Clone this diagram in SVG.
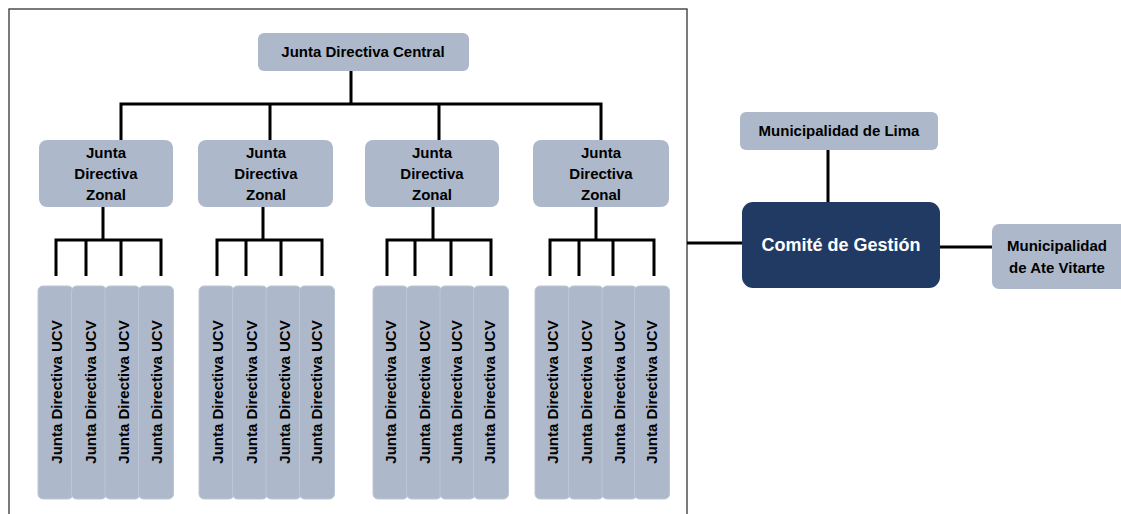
<svg xmlns="http://www.w3.org/2000/svg" width="1121" height="514" viewBox="0 0 1121 514">
<style>
.box{fill:#ADB9CA;}
.ucv{fill:#ADB9CA;stroke:#BCC6D4;stroke-width:1;}
.t{font-family:"Liberation Sans",Arial,sans-serif;font-weight:bold;font-size:15px;fill:#000;text-anchor:middle;}
.w{fill:#fff;font-size:18px;}
.c{stroke:#000;stroke-width:3;fill:none;}
</style>
<rect x="9" y="9" width="678" height="530" fill="#fff" stroke="#333" stroke-width="1.3"/>
<g id="connectors">
<path class="c" d="M351 71V104M121 141V104H601V141M270 104V141M439 104V141"/>
<path class="c" d="M103 207V240M56 276V240H161V276M86 240V276M121 240V276"/>
<path class="c" d="M263 207V240M217 276V240H322V276M246 240V276M281 240V276"/>
<path class="c" d="M433 207V240M387 276V240H491V276M415 240V276M451 240V276"/>
<path class="c" d="M596 207V240M550 276V240H654V276M579 240V276M613 240V276"/>
<path class="c" d="M828 150V202M687 243H742M940 247H992"/>
</g>
<g id="central"><rect class="box" x="258" y="33" width="211" height="38" rx="6"/><text class="t" x="363" y="57">Junta Directiva Central</text></g>
<g id="zonal1"><rect class="box" x="39" y="140" width="134" height="67" rx="8"/><text class="t" x="106" y="158">Junta</text><text class="t" x="106" y="179">Directiva</text><text class="t" x="106" y="200">Zonal</text></g>
<g id="zonal2"><rect class="box" x="198" y="140" width="135" height="67" rx="8"/><text class="t" x="266" y="158">Junta</text><text class="t" x="266" y="179">Directiva</text><text class="t" x="266" y="200">Zonal</text></g>
<g id="zonal3"><rect class="box" x="365" y="140" width="134" height="67" rx="8"/><text class="t" x="432" y="158">Junta</text><text class="t" x="432" y="179">Directiva</text><text class="t" x="432" y="200">Zonal</text></g>
<g id="zonal4"><rect class="box" x="533" y="140" width="136" height="67" rx="8"/><text class="t" x="601" y="158">Junta</text><text class="t" x="601" y="179">Directiva</text><text class="t" x="601" y="200">Zonal</text></g>
<g id="ucv1">
<rect class="ucv" x="38" y="286" width="35" height="213" rx="5"/><rect class="ucv" x="71.5" y="286" width="35" height="213" rx="5"/><rect class="ucv" x="105" y="286" width="35" height="213" rx="5"/><rect class="ucv" x="138.5" y="286" width="35" height="213" rx="5"/>
<text class="t" transform="translate(56.5 392) rotate(-90)" dominant-baseline="central">Junta Directiva UCV</text>
<text class="t" transform="translate(90 392) rotate(-90)" dominant-baseline="central">Junta Directiva UCV</text>
<text class="t" transform="translate(123 392) rotate(-90)" dominant-baseline="central">Junta Directiva UCV</text>
<text class="t" transform="translate(156 392) rotate(-90)" dominant-baseline="central">Junta Directiva UCV</text>
</g>
<g id="ucv2">
<rect class="ucv" x="199" y="286" width="35" height="213" rx="5"/><rect class="ucv" x="232.5" y="286" width="35" height="213" rx="5"/><rect class="ucv" x="266" y="286" width="35" height="213" rx="5"/><rect class="ucv" x="299.5" y="286" width="35" height="213" rx="5"/>
<text class="t" transform="translate(217.5 392) rotate(-90)" dominant-baseline="central">Junta Directiva UCV</text>
<text class="t" transform="translate(251 392) rotate(-90)" dominant-baseline="central">Junta Directiva UCV</text>
<text class="t" transform="translate(284 392) rotate(-90)" dominant-baseline="central">Junta Directiva UCV</text>
<text class="t" transform="translate(316 392) rotate(-90)" dominant-baseline="central">Junta Directiva UCV</text>
</g>
<g id="ucv3">
<rect class="ucv" x="373" y="286" width="35" height="213" rx="5"/><rect class="ucv" x="406.5" y="286" width="35" height="213" rx="5"/><rect class="ucv" x="440" y="286" width="35" height="213" rx="5"/><rect class="ucv" x="473.5" y="286" width="35" height="213" rx="5"/>
<text class="t" transform="translate(390.5 392) rotate(-90)" dominant-baseline="central">Junta Directiva UCV</text>
<text class="t" transform="translate(424 392) rotate(-90)" dominant-baseline="central">Junta Directiva UCV</text>
<text class="t" transform="translate(456 392) rotate(-90)" dominant-baseline="central">Junta Directiva UCV</text>
<text class="t" transform="translate(489 392) rotate(-90)" dominant-baseline="central">Junta Directiva UCV</text>
</g>
<g id="ucv4">
<rect class="ucv" x="535" y="286" width="35" height="213" rx="5"/><rect class="ucv" x="568.5" y="286" width="35" height="213" rx="5"/><rect class="ucv" x="602" y="286" width="35" height="213" rx="5"/><rect class="ucv" x="634.5" y="286" width="35" height="213" rx="5"/>
<text class="t" transform="translate(552.5 392) rotate(-90)" dominant-baseline="central">Junta Directiva UCV</text>
<text class="t" transform="translate(586 392) rotate(-90)" dominant-baseline="central">Junta Directiva UCV</text>
<text class="t" transform="translate(619 392) rotate(-90)" dominant-baseline="central">Junta Directiva UCV</text>
<text class="t" transform="translate(651 392) rotate(-90)" dominant-baseline="central">Junta Directiva UCV</text>
</g>
<g id="lima"><rect class="box" x="740" y="112" width="198" height="38" rx="6"/><text class="t" x="839" y="136">Municipalidad de Lima</text></g>
<g id="comite"><rect x="742" y="202" width="198" height="86" rx="11" fill="#213A63"/><text class="t w" x="841" y="251">Comité de Gestión</text></g>
<g id="ate"><rect class="box" x="992" y="224" width="140" height="65" rx="7"/><text class="t" x="1057" y="251">Municipalidad</text><text class="t" x="1057" y="273">de Ate Vitarte</text></g>
</svg>
